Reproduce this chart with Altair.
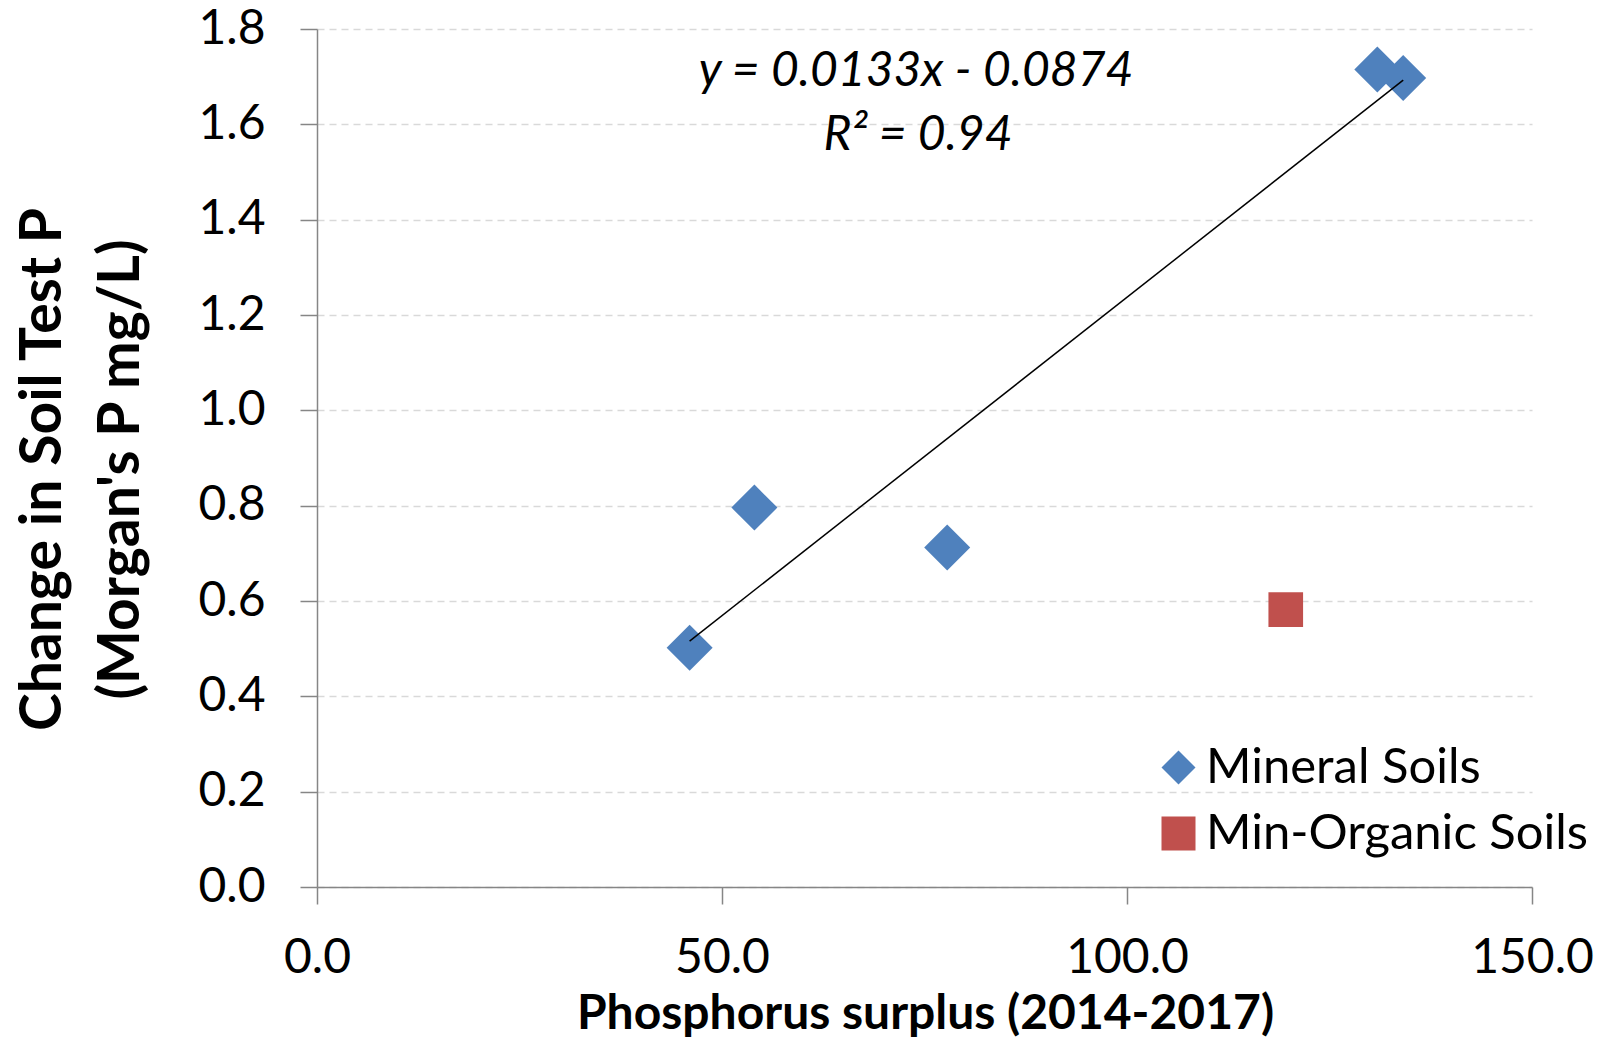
import altair as alt
import pandas as pd

# ---- data ----
categories = ["Mineral Soils", "Min-Organic Soils"]
mineral_x = [46.0, 54.0, 77.8, 130.9, 134.1]
mineral_y = [0.502, 0.796, 0.712, 1.715, 1.697]
organic_x = [119.6]
organic_y = [0.582]
x_ticks = [0, 50, 100, 150]
y_ticks = [0, 0.2, 0.4, 0.6, 0.8, 1.0, 1.2, 1.4, 1.6, 1.8]
eq_line1 = "y = 0.0133x - 0.0874"
eq_line2 = "R\u00b2 = 0.94"
x_title = "Phosphorus surplus (2014-2017)"
y_title = ["Change in Soil Test P", "(Morgan's P mg/L)"]

mineral = pd.DataFrame({"x": mineral_x, "y": mineral_y, "soil": categories[0]})
organic = pd.DataFrame({"x": organic_x, "y": organic_y, "soil": categories[1]})

FONT = "Lato"
AXIS_GRAY = "#868686"

color_scale = alt.Scale(domain=categories, range=["#4F81BD", "#C0504D"])
shape_scale = alt.Scale(domain=categories, range=["diamond", "square"])

legend = alt.Legend(
    title=None, orient="none", legendX=837, legendY=714,
    labelFont=FONT, labelFontSize=49, labelColor="black", labelLimit=600,
    symbolSize=1156, symbolStrokeWidth=0, symbolOpacity=1,
    labelOffset=3, rowPadding=16, padding=0,
)

x_enc = alt.X(
    "x:Q",
    scale=alt.Scale(domain=[0, 150], nice=False, zero=False),
    axis=alt.Axis(
        values=x_ticks, format=".1f", title=x_title, grid=False,
        domainColor=AXIS_GRAY, domainWidth=1.5, tickColor=AXIS_GRAY, tickWidth=1.5,
        tickSize=17, labelPadding=30, labelFont=FONT, labelFontSize=48,
        labelFlush=False, labelOverlap=False,
        labelColor="black", titleFont=FONT, titleFontSize=48, titleFontWeight="bold",
        titleColor="black", titleX=608, titleY=141, titleBaseline="alphabetic",
        titleAlign="center",
    ),
)
y_enc = alt.Y(
    "y:Q",
    scale=alt.Scale(domain=[0, 1.8], nice=False),
    axis=alt.Axis(
        values=y_ticks, format=".1f", title=y_title, grid=True,
        gridColor="#D9D9D9", gridDash=[7, 5], gridWidth=1.5,
        domainColor=AXIS_GRAY, domainWidth=1.5, tickColor=AXIS_GRAY, tickWidth=1.5,
        tickSize=17, labelPadding=35, labelFont=FONT, labelFontSize=48,
        labelFlush=False, labelOverlap=False,
        labelColor="black", titleFont=FONT, titleFontSize=57, titleFontWeight="bold",
        titleColor="black", titleLineHeight=78, titleAngle=270,
        titleX=-257, titleY=440, titleAlign="center", titleBaseline="alphabetic",
    ),
)

mineral_pts = alt.Chart(mineral).mark_point(filled=True, opacity=1, size=2116).encode(
    x=x_enc, y=y_enc,
    color=alt.Color("soil:N", scale=color_scale, legend=legend),
    shape=alt.Shape("soil:N", scale=shape_scale, legend=legend),
)
organic_pts = alt.Chart(organic).mark_point(filled=True, opacity=1, size=1200).encode(
    x="x:Q", y="y:Q",
    color=alt.Color("soil:N", scale=color_scale, legend=legend),
    shape=alt.Shape("soil:N", scale=shape_scale, legend=legend),
)

trend = alt.Chart(mineral).transform_regression("x", "y").mark_line(
    color="black", strokeWidth=1.5
).encode(x="x:Q", y="y:Q")

eq1 = alt.Chart(pd.DataFrame({"t": [eq_line1]})).mark_text(
    font=FONT, fontStyle="italic", fontSize=48, align="center", baseline="alphabetic", color="black"
).encode(x=alt.value(599), y=alt.value(57), text="t:N")
eq2 = alt.Chart(pd.DataFrame({"t": [eq_line2]})).mark_text(
    font=FONT, fontStyle="italic", fontSize=48, align="center", baseline="alphabetic", color="black"
).encode(x=alt.value(601), y=alt.value(121), text="t:N")

chart = alt.layer(mineral_pts, organic_pts, trend, eq1, eq2).properties(
    width=1215, height=858,
    autosize=alt.AutoSizeParams(type="none"),
    padding={"left": 309, "top": 21, "right": 63, "bottom": 153},
    background="white",
).configure_view(stroke=None)

chart.save("out.html", embed_options={"renderer": "svg", "actions": False})
